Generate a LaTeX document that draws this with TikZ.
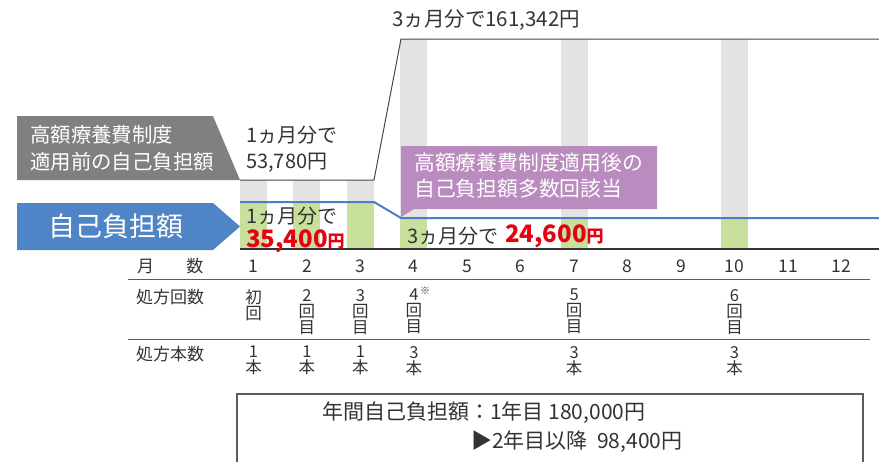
\documentclass[tikz,border=0pt]{standalone}
\usepackage{fontspec}
\setmainfont{Noto Sans CJK JP}
\usepackage{xcolor}
\definecolor{txt}{HTML}{333333}
\definecolor{bargray}{HTML}{E3E3E3}
\definecolor{bargreen}{HTML}{C9DF9C}
\definecolor{costblue}{HTML}{4A7FC1}
\definecolor{tagblue}{HTML}{4F84C6}
\definecolor{taggray}{HTML}{808080}
\definecolor{tagpurple}{HTML}{BA8BBF}
\definecolor{costred}{HTML}{E60012}
\tikzstyle{lbl} = [inner sep=0pt, anchor=west, text=txt, align=left]
\tikzstyle{tag} = [inner sep=0pt, anchor=west, text=white, align=left]
\tikzstyle{col} = [inner sep=0pt, anchor=north, text=txt, align=center, font=\fontsize{16.5}{16}\selectfont]
\tikzstyle{rule} = [draw=txt!80, line width=1.2pt]

\begin{document}
\begin{tikzpicture}[x=1pt,y=-1pt]
    \useasboundingbox (0,0) rectangle (879,461);
    % bars
    \foreach \m in {1,2,3} {
      \fill [bargray] ({240+(\m-1)*53.45},180) rectangle ++(27,22);
      \fill [bargreen] ({240+(\m-1)*53.45},202) rectangle ++(27,47);
    }
    \foreach \m in {4,7,10} {
      \fill [bargray] ({240+(\m-1)*53.45},39) rectangle ++(27,179);
      \fill [bargreen] ({240+(\m-1)*53.45},218) rectangle ++(27,31);
    }
    % before
    \coordinate (b1) at (240,180);
    \coordinate (b2) at (374,180);
    \coordinate (b3) at (401,39);
    \coordinate (b4) at (879,39);
    \draw [txt!90, line width=1pt] (b1) -- (b2) -- (b3) -- (b4);
    % after
    \coordinate (a1) at (240,202);
    \coordinate (a2) at (374,202);
    \coordinate (a3) at (401,218);
    \coordinate (a4) at (879,218);
    \draw [costblue, line width=2pt] (a1) -- (a2) -- (a3) -- (a4);
    \draw [txt, line width=1.5pt] (240,249) -- (879,249);

    % tags
    \fill [taggray] (17,116) -- (213,116) -- (240,180) -- (17,180) -- cycle;
    \node [tag, font=\fontsize{20.4}{27}\selectfont] (pre) at (30,148) {高額療養費制度\\適用前の自己負担額};
    \fill [tagblue] (17,203) -- (213,203) -- (240,226.5) -- (213,250) -- (17,250) -- cycle;
    \node [tag, font=\fontsize{27}{27}\selectfont] (own) at (48,226) {自己負担額};
    \fill [tagpurple] (401,146) -- (657,146) -- (657,209) -- (414,209) -- (401,217) -- cycle;
    \node [tag, font=\fontsize{20.8}{26}\selectfont] (post) at (414,176) {高額療養費制度適用後の\\自己負担額多数回該当};

    % amounts
    \node [lbl, font=\fontsize{20.5}{20}\selectfont] (top) at (392,20) {3ヵ月分で161,342円};
    \node [lbl, font=\fontsize{20}{26}\selectfont] (old) at (246,149) {1ヵ月分で\\53,780円};
    \node [lbl, font=\fontsize{20}{19}\selectfont] (one) at (246,216) {1ヵ月分で};
    \node [lbl, font=\fontsize{24}{22}\selectfont\bfseries, text=costred] (oneval) at (246,241) {35,400{\fontsize{17}{16}\selectfont 円}};
    \node [lbl, font=\fontsize{20}{19}\selectfont] (three) at (407,236) {3ヵ月分で};
    \node [lbl, font=\fontsize{24}{22}\selectfont\bfseries, text=costred] (threeval) at (505,236) {24,600{\fontsize{17}{16}\selectfont 円}};

    % table
    \node [lbl, font=\fontsize{17}{17}\selectfont] (mon) at (137,266) {月\hspace{1.9em}数};
    \foreach \m in {1,...,12}
      \node [inner sep=0pt, text=txt, font=\fontsize{17.5}{17}\selectfont] (m\m) at ({253.5+(\m-1)*53.45},266) {\m};
    \draw [rule] (128,279.5) -- (870,279.5);
    \draw [rule] (128,339.5) -- (870,339.5);
    \node [lbl, font=\fontsize{17}{17}\selectfont] (rx) at (136,297) {処方回数};
    \node [lbl, font=\fontsize{17}{17}\selectfont] (qty) at (136,354) {処方本数};
    \node [col] (r1) at (m1 |- 0,289) {初\\回};
    \node [col] (r2) at (m2 |- 0,289) {2\\回\\目};
    \node [col] (r3) at (m3 |- 0,289) {3\\回\\目};
    \node [col] (r4) at (m4 |- 0,289) {4\\回\\目};
    \node [inner sep=0pt, text=txt, font=\fontsize{10}{10}\selectfont] (note) at (425,291) {※};
    \node [col] (r7) at (m7 |- 0,289) {5\\回\\目};
    \node [col] (r10) at (m10 |- 0,289) {6\\回\\目};
    \node [col] (q1) at (m1 |- 0,346) {1\\本};
    \node [col] (q2) at (m2 |- 0,346) {1\\本};
    \node [col] (q3) at (m3 |- 0,346) {1\\本};
    \node [col] (q4) at (m4 |- 0,346) {3\\本};
    \node [col] (q7) at (m7 |- 0,346) {3\\本};
    \node [col] (q10) at (m10 |- 0,346) {3\\本};

    % total
    \draw [draw=txt!80, line width=1.5pt] (237,470) -- (237,394) -- (863,394) -- (863,470);
    \node [lbl, font=\fontsize{21}{20}\selectfont] (year1) at (322,413) {年間自己負担額：1年目 180,000円};
    \node [lbl, font=\fontsize{21}{20}\selectfont] (year2) at (471,442) {▶2年目以降\hspace{0.45em}98,400円};
  \end{tikzpicture}
\end{document}
